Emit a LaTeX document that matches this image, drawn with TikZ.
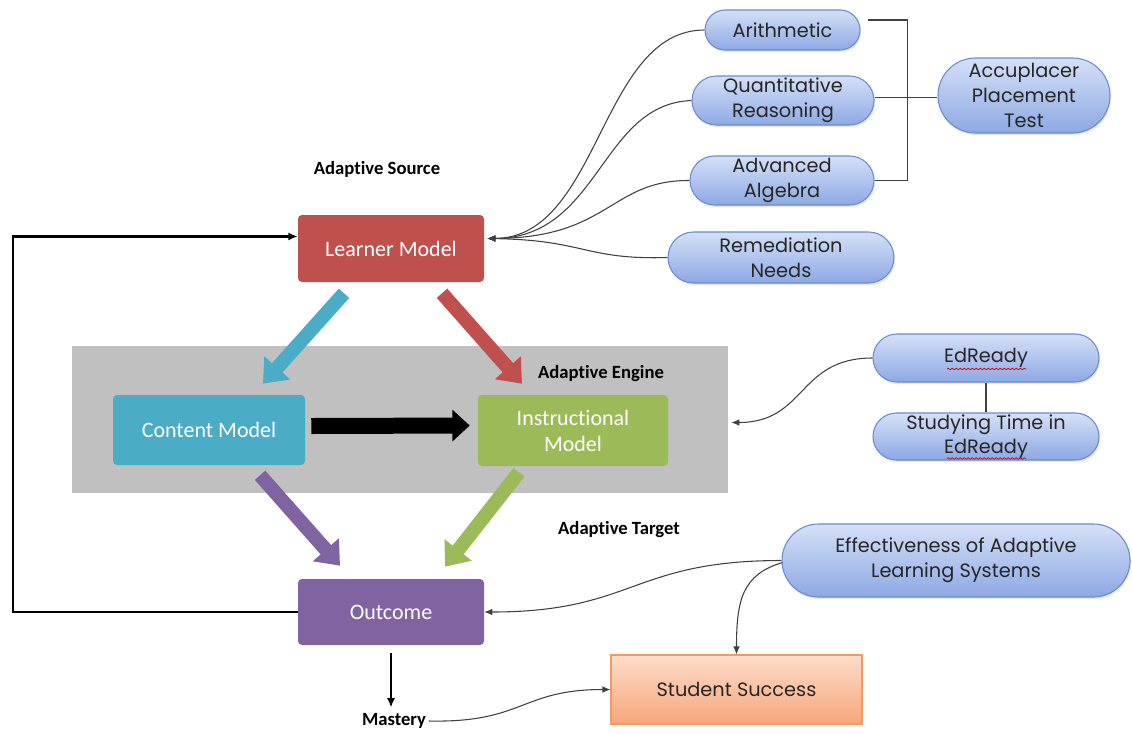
\documentclass[tikz,border=0pt]{standalone}
\usepackage{fontspec}
\setmainfont{Carlito}[Ligatures=NoCommon]
\newfontfamily\pillfont{Poppins}
\usetikzlibrary{arrows.meta,calc,shapes.misc,shadows,decorations.pathmorphing}

\definecolor{learnerred}{HTML}{C0504D}
\definecolor{contentblue}{HTML}{4BACC6}
\definecolor{instrgreen}{HTML}{9BBB59}
\definecolor{outcomepurple}{HTML}{8064A2}
\definecolor{enginegray}{HTML}{C0C0C0}
\definecolor{pilltop}{HTML}{D5E0F6}
\definecolor{pillbot}{HTML}{8DA8E4}
\definecolor{pillborder}{HTML}{6A8AD2}
\definecolor{darktext}{HTML}{262626}
\definecolor{successtop}{HTML}{FDDDCB}
\definecolor{successbot}{HTML}{F6A679}
\definecolor{successborder}{HTML}{F29A62}
\definecolor{linkgray}{HTML}{404040}

\begin{document}
\begin{tikzpicture}[x=0.75pt,y=-0.75pt,
  modelbox/.style={fill=#1, draw=none, rounded corners=3pt, text=white,
    font=\fontsize{16.5}{19.5}\selectfont, align=center, inner sep=0pt},
  pill/.style={rounded rectangle, draw=pillborder, line width=0.8pt,
    top color=pilltop, bottom color=pillbot, text=darktext,
    font=\pillfont\fontsize{14.5}{18.5}\selectfont, align=center, inner sep=0pt,
    drop shadow={opacity=0.18, shadow xshift=0.8pt, shadow yshift=-1.6pt}},
  tag/.style={font=\bfseries\fontsize{14}{16}\selectfont, text=black, inner sep=2pt},
  bigarrow/.style={draw=#1, line width=10.5pt, -{Triangle[width=25pt,length=16pt]}},
  link/.style={draw=linkgray, line width=0.8pt},
  linkarrow/.style={link, -{Latex[length=6pt,width=5pt]}},
  loopline/.style={draw=black, line width=1.8pt},
  squiggle/.style={draw=red!80!black, line width=0.5pt,
    decorate, decoration={snake, amplitude=0.6pt, segment length=3pt}}
]
\useasboundingbox (0,0) rectangle (1132,733);

% adaptive engine panel
\node (engine) [fill=enginegray, minimum width=492pt, minimum height=110.25pt,
  inner sep=0pt] at (400,419.5) {};

% core models
\node (learner) [modelbox=learnerred, minimum width=139.5pt, minimum height=50.25pt]
  at (391,248.5) {Learner Model};
\node (content) [modelbox=contentblue, minimum width=144pt, minimum height=52.5pt]
  at (209,430) {Content Model};
\node (instr) [modelbox=instrgreen, minimum width=142.5pt, minimum height=53.25pt]
  at (573,430.5) {Instructional\\Model};
\node (outcome) [modelbox=outcomepurple, minimum width=139.5pt, minimum height=49.5pt]
  at (391,612) {Outcome};

% section labels
\node (srclabel) [tag] at (377,169) {Adaptive Source};
\node (englabel) [tag] at (601,374) {Adaptive Engine};
\node (tgtlabel) [tag] at (619,530) {Adaptive Target};
\node (mastery) [tag] at (394,721) {Mastery};

% student success
\node (success) [draw=successborder, line width=0.8pt, top color=successtop,
  bottom color=successbot, minimum width=188.25pt, minimum height=51.75pt,
  text=darktext, font=\pillfont\fontsize{14.5}{18}\selectfont, inner sep=0pt]
  at (736.5,689.5) {Student Success};

% learner inputs
\node (arith) [pill, minimum width=116.25pt, minimum height=30pt] at (782.5,30) {Arithmetic};
\node (quant) [pill, minimum width=136.5pt, minimum height=36.75pt] at (783,100.5) {Quantitative\\Reasoning};
\node (alg) [pill, minimum width=138pt, minimum height=36.75pt] at (782,180.5) {Advanced\\Algebra};
\node (remed) [pill, minimum width=169.5pt, minimum height=38.25pt] at (781,257.5) {Remediation\\Needs};
\node (accu) [pill, minimum width=129pt, minimum height=56.25pt] at (1024,95.5) {Accuplacer\\Placement\\Test};

% engine inputs
\node (edready) [pill, minimum width=169.5pt, minimum height=36pt] at (986,358) {EdReady};
\node (study) [pill, minimum width=169.5pt, minimum height=35.25pt] at (986,436.5) {Studying Time in\\EdReady};

% evaluation
\node (effect) [pill, minimum width=261pt, minimum height=54.75pt] at (956,560.5)
  {Effectiveness of Adaptive\\Learning Systems};

% spell-check marks under EdReady
\draw[squiggle] ($(edready.center)+(-39,11)$) -- ($(edready.center)+(40,11)$);
\draw[squiggle] ($(study.center)+(-39,22)$) -- ($(study.center)+(40,22)$);

% flow between the models
\draw[bigarrow=contentblue] ($(learner.south)+(-47,11)$) -- ($(content.north)+(54,-11)$);
\draw[bigarrow=learnerred] ($(learner.south)+(51,11)$) -- ($(instr.north)+(-51,-11)$);
\draw[bigarrow=outcomepurple] ($(content.south)+(51,10)$) -- ($(outcome.north)+(-51,-13)$);
\draw[bigarrow=instrgreen] ($(instr.south)+(-54,6)$) -- ($(outcome.north)+(54,-12)$);
\draw[draw=black, line width=12pt, -{Triangle[width=23pt,length=13pt]}]
  ($(content.east)+(6,-4)$) -- ($(instr.west)+(-8,-5)$);

% feedback loop
\draw[loopline, -{Latex[length=7pt,width=6pt]}] (outcome.west) -- ++(-285,0)
  |- ($(learner.west)+(0,-12)$);
\draw[loopline, -{Latex[length=7pt,width=6pt]}] ($(outcome.south)+(0,8)$)
  -- ($(outcome.south |- mastery.north)+(0,-3)$);

% inputs into the learner model
\coordinate (lin) at ($(learner.east)+(3,-10)$);
\draw[linkarrow] (arith.west) .. controls (600,30) and (600,238) .. (lin);
\draw[linkarrow] (quant.west) .. controls (600,104) and (600,238) .. (lin);
\draw[linkarrow] (alg.west) .. controls (610,180) and (610,238) .. (lin);
\draw[linkarrow] (remed.west) .. controls (585,260) and (585,240) .. (lin);

% placement test bracket
\draw[link] ($(arith.east)+(7,-10)$) -- ++(40,0) |- (alg.east);
\draw[link] ($(quant.east)+(0,-3)$) -- ($(quant.east -| accu.west)+(0,-3)$);

% engine data
\draw[link] (edready.south) -- (study.north);
\draw[linkarrow] (edready.west) .. controls +(-75,0) and +(75,0) .. ($(engine.east)+(3,3)$);

% evaluation links
\draw[linkarrow] (effect.west) .. controls +(-150,0) and +(150,0) .. (outcome.east);
\draw[linkarrow] ($(effect.west)+(1,2)$) .. controls +(-40,12) and +(0,-55) .. (success.north);
\draw[linkarrow] (mastery.east) .. controls +(95,2) and +(-90,0) .. (success.west);
\end{tikzpicture}
\end{document}
